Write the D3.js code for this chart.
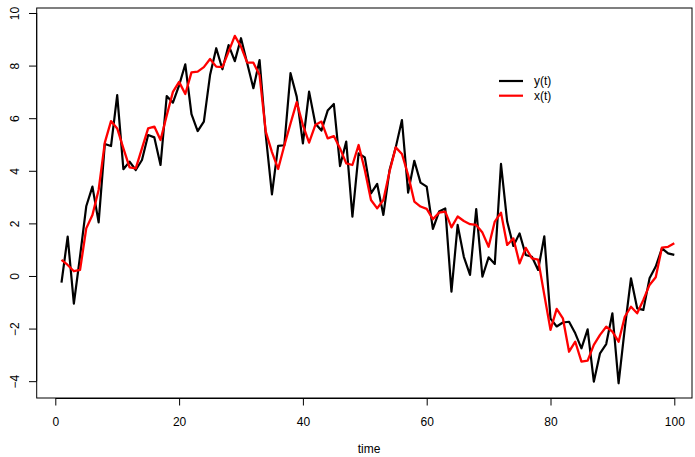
<!DOCTYPE html>
<html>
<head>
<meta charset="utf-8">
<script src="https://cdn.jsdelivr.net/npm/d3@7"></script>
<style>
  body { margin: 0; background: #fff; }
  svg { display: block; font-family: "Liberation Sans", Arial, sans-serif; }
</style>
</head>
<body>
<svg id="chart" width="695" height="457"></svg>
<script>
const width = 695
const height = 457

// series, t = 1..100
const yVals = [
  -0.25, 1.50, -1.05, 0.75, 2.65, 3.40, 2.04, 5.02, 4.94, 6.88,
  4.06, 4.35, 4.03, 4.41, 5.36, 5.27, 4.22, 6.84, 6.59, 7.25,
  8.05, 6.15, 5.51, 5.87, 7.64, 8.66, 7.86, 8.78, 8.17, 9.04,
  8.09, 7.14, 8.21, 5.36, 3.10, 4.95, 4.97, 7.71, 6.82, 5.04,
  7.01, 5.80, 5.53, 6.29, 6.54, 4.18, 5.11, 2.26, 4.66, 4.51,
  3.14, 3.50, 2.32, 4.03, 4.89, 5.93, 3.17, 4.38, 3.55, 3.40,
  1.79, 2.45, 2.57, -0.60, 1.94, 0.73, 0.04, 2.54, -0.03, 0.71,
  0.46, 4.26, 2.07, 1.14, 1.62, 0.80, 0.73, 0.23, 1.51, -1.62,
  -1.92, -1.77, -1.74, -2.18, -2.75, -2.03, -4.02, -2.94, -2.59, -1.42,
  -4.08, -1.99, -0.09, -1.23, -1.29, -0.09, 0.36, 1.05, 0.86, 0.80
];

const xVals = [
  0.61, 0.42, 0.18, 0.23, 1.81, 2.32, 3.27, 5.07, 5.89, 5.61,
  4.85, 4.13, 4.09, 4.85, 5.61, 5.68, 5.17, 6.10, 7.00, 7.38,
  6.92, 7.74, 7.77, 7.94, 8.25, 7.96, 7.94, 8.53, 9.13, 8.72,
  8.11, 8.11, 7.64, 5.49, 4.71, 4.07, 4.96, 5.80, 6.61, 5.74,
  5.07, 5.74, 5.87, 5.23, 5.32, 4.85, 4.28, 4.22, 4.98, 4.03,
  2.89, 2.57, 2.89, 3.97, 4.89, 4.64, 3.84, 2.83, 2.64, 2.55,
  2.16, 2.41, 2.45, 1.85, 2.26, 2.09, 1.97, 1.94, 1.65, 1.11,
  2.07, 2.41, 1.18, 1.43, 0.48, 1.07, 0.67, 0.62, -0.72, -2.05,
  -1.25, -1.61, -2.88, -2.50, -3.26, -3.22, -2.62, -2.24, -1.93, -2.12,
  -2.50, -1.55, -1.17, -1.42, -0.91, -0.34, -0.05, 1.08, 1.11, 1.24
];

const xTicks = [0, 20, 40, 60, 80, 100]
const yTicks = [-4, -2, 0, 2, 4, 6, 8, 10]
const legendLabels = ["y(t)", "x(t)"]
const legendColors = ["#000", "#ff0000"]

const svg = d3.select("#chart")

const x = d3.scaleLinear().domain([0, 100]).range([55.3, 674.3])
const y = d3.scaleLinear().domain([-4.64, 10.19]).range([398, 8])

// plot box
svg.append("rect")
    .attr("x", 36.7).attr("y", 8)
    .attr("width", 692 - 36.7).attr("height", 398 - 8)
    .attr("fill", "none")
    .attr("stroke", "#000")
    .attr("stroke-width", 1)

const xAxis = svg.append("g")
    .attr("transform", "translate(0,398)")
    .call(d3.axisBottom(x).tickValues(xTicks).tickSize(7.5).tickSizeOuter(0))
xAxis.selectAll("path, line").attr("stroke", "#000")
xAxis.selectAll("text")
    .attr("y", 24).attr("dy", "0.35em")
    .attr("font-size", 12)
    .attr("font-family", "Liberation Sans, Arial, sans-serif")
    .attr("fill", "#000")

const yAxis = svg.append("g")
    .attr("transform", "translate(36.7,0)")
    .call(d3.axisLeft(y).tickValues(yTicks).tickSize(7.7).tickSizeOuter(0))
yAxis.select("path").remove()
yAxis.selectAll("line").attr("stroke", "#000")
yAxis.selectAll("text")
    .attr("transform", "rotate(-90)")
    .attr("x", 0).attr("y", -17.8).attr("dy", 0)
    .attr("text-anchor", "middle")
    .attr("font-size", 12)
    .attr("font-family", "Liberation Sans, Arial, sans-serif")
    .attr("fill", "#000")

// axis line on the left runs between the extreme ticks
svg.append("line")
    .attr("x1", 36.7).attr("x2", 36.7)
    .attr("y1", y(-4)).attr("y2", y(10))
    .attr("stroke", "#000")

svg.append("text")
    .attr("x", 369).attr("y", 449)
    .attr("dy", "0.35em")
    .attr("text-anchor", "middle")
    .attr("font-size", 12)
    .text("time")

const line = d3.line()
    .x((d, i) => x(i + 1))
    .y(d => y(d))

svg.append("path")
    .datum(yVals)
    .attr("fill", "none")
    .attr("stroke", legendColors[0])
    .attr("stroke-width", 2.2)
    .attr("stroke-linejoin", "round")
    .attr("d", line)

svg.append("path")
    .datum(xVals)
    .attr("fill", "none")
    .attr("stroke", legendColors[1])
    .attr("stroke-width", 2.3)
    .attr("stroke-linejoin", "round")
    .attr("d", line)

// legend, no frame
const legend = svg.append("g")
  .selectAll("g")
  .data(legendLabels)
  .join("g")
    .attr("transform", (d, i) => `translate(499,${81 + i * 14.7})`)

legend.append("line")
    .attr("x1", 0).attr("x2", 24)
    .attr("stroke", (d, i) => legendColors[i])
    .attr("stroke-width", 2.2)

legend.append("text")
    .attr("x", 35).attr("dy", "0.35em")
    .attr("font-size", 12)
    .text(d => d)
</script>
</body>
</html>
